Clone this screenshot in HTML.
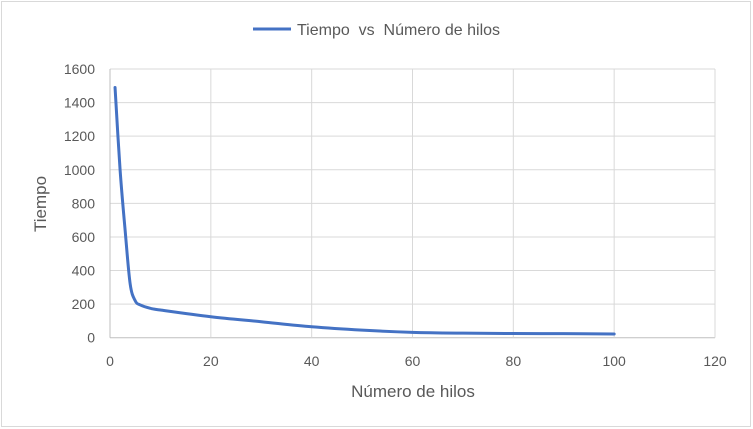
<!DOCTYPE html>
<html><head><meta charset="utf-8"><style>
html,body{margin:0;padding:0;background:#fff;}
svg{display:block;font-family:"Liberation Sans",sans-serif;}
</style></head><body>
<svg id="chart" width="753" height="429" viewBox="0 0 753 429">
<rect x="1.5" y="1.5" width="749" height="425" fill="#fff" stroke="#d9d9d9"/>
<g id="grid"></g>
<g id="ticks"></g>
<path id="line" fill="none" stroke="#4472c4" stroke-width="3" stroke-linejoin="round" stroke-linecap="round"/>
<g>
<line x1="253" y1="29" x2="291" y2="29" stroke="#4472c4" stroke-width="3"/>
<text x="297" y="35" font-size="16" fill="#595959" xml:space="preserve">Tiempo  vs  Número de hilos</text>
</g>
<text x="413" y="397" font-size="17" fill="#595959" text-anchor="middle">Número de hilos</text>
<text transform="translate(46,204) rotate(-90)" font-size="17" fill="#595959" text-anchor="middle">Tiempo</text>
</svg>
<script>
const xVals=[1,2,3,4,5,6,8,10,20,30,40,50,60,70,80,90,100];
const yVals=[1490,1000,640,320,220,195,175,165,125,95,65,45,32,27,25,24,22];
const xTicks=[0,20,40,60,80,100,120];
const yTicks=[0,200,400,600,800,1000,1200,1400,1600];
const X0=110,X1=715,Y0=337.7,Y1=69;
const sx=v=>X0+(v-0)/120*(X1-X0);
const sy=v=>Y0-(v/1600)*(Y0-Y1);
const NS="http://www.w3.org/2000/svg";
const grid=document.getElementById('grid'),ticks=document.getElementById('ticks');
yTicks.forEach(t=>{
 const l=document.createElementNS(NS,'line');
 l.setAttribute('x1',X0);l.setAttribute('x2',X1);l.setAttribute('y1',sy(t));l.setAttribute('y2',sy(t));
 l.setAttribute('stroke',t===0?'#bfbfbf':'#d9d9d9');l.setAttribute('stroke-width','1');
 
 
 grid.appendChild(l);
 const tx=document.createElementNS(NS,'text');
 tx.setAttribute('x',95);tx.setAttribute('y',sy(t)+5);tx.setAttribute('text-anchor','end');
 tx.setAttribute('font-size','14');tx.setAttribute('fill','#595959');tx.textContent=t;
 
 
 ticks.appendChild(tx);
});
xTicks.forEach(t=>{
 const l=document.createElementNS(NS,'line');
 l.setAttribute('x1',sx(t));l.setAttribute('x2',sx(t));l.setAttribute('y1',Y1);l.setAttribute('y2',Y0);
 l.setAttribute('stroke',t===0?'#bfbfbf':'#d9d9d9');l.setAttribute('stroke-width','1');
 
 
 grid.appendChild(l);
 const tx=document.createElementNS(NS,'text');
 tx.setAttribute('x',sx(t));tx.setAttribute('y',366);tx.setAttribute('text-anchor','middle');
 tx.setAttribute('font-size','14');tx.setAttribute('fill','#595959');tx.textContent=t;
 
 
 ticks.appendChild(tx);
});
const pts=xVals.map((x,i)=>[sx(x),sy(yVals[i])]);
let d='M'+pts[0][0]+','+pts[0][1];
for(let i=0;i<pts.length-1;i++){
 const p0=pts[i-1]||pts[i],p1=pts[i],p2=pts[i+1],p3=pts[i+2]||p2;
 const c1=[p1[0]+(p2[0]-p0[0])/6,p1[1]+(p2[1]-p0[1])/6];
 const c2=[p2[0]-(p3[0]-p1[0])/6,p2[1]-(p3[1]-p1[1])/6];
 d+=' C'+c1+' '+c2+' '+p2;
}
document.getElementById('line').setAttribute('d',d);
</script>
</body></html>
